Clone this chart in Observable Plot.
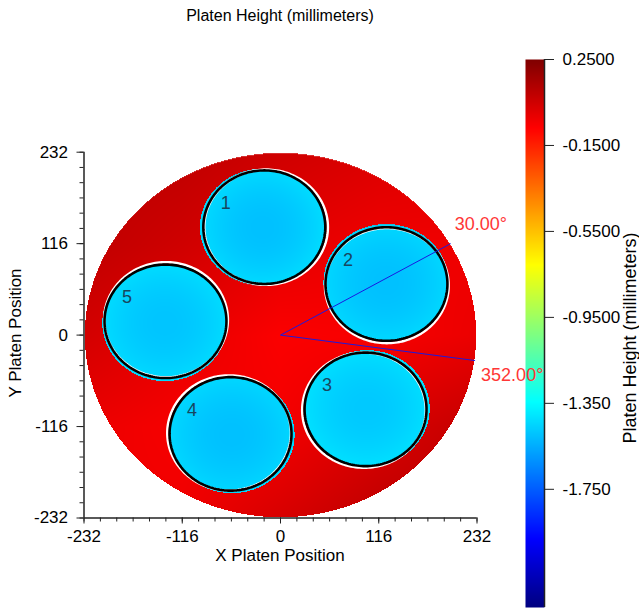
<!DOCTYPE html>
<html><head><meta charset="utf-8">
<script src="https://cdn.jsdelivr.net/npm/d3@7"></script>
<script src="https://cdn.jsdelivr.net/npm/@observablehq/plot@0.6"></script>
<style>
body{margin:0;background:#fff;}
#root{position:relative;width:639px;height:612px;font-family:"Liberation Sans",Arial,sans-serif;color:#000;overflow:hidden}
.lbl{position:absolute;white-space:nowrap;transform:translate(-50%,-50%);line-height:1}
.rot{transform:translate(-50%,-50%) rotate(-90deg)}
svg{position:absolute;top:0}
</style></head><body><div id="root"></div>
<script>
// ---------- data ----------
const titleText = "Platen Height (millimeters)";
const xLabel = "X Platen Position";
const yLabel = "Y Platen Position";
const colorLabel = "Platen Height (millimeters)";

const axisTicks = [-232, -116, 0, 116, 232];
const axisTickLabels = ["-232", "-116", "0", "116", "232"];
const minorPerMajor = 6;

const colorTicks = [0.25, -0.15, -0.55, -0.95, -1.35, -1.75];
const colorTickLabels = ["0.2500", "-0.1500", "-0.5500", "-0.9500", "-1.350", "-1.750"];
const colorMin = -2.30, colorMax = 0.25;
const jetStops = [0, 0.125, 0.375, 0.625, 0.875, 1];
const jetColors = ["#00007f", "#0000ff", "#00ffff", "#ffff00", "#ff0000", "#7f0000"];

const platenRadius = 231;
const pocketNumbers = ["1", "2", "3", "4", "5"];
const pocketX = [-19.1, 125.1, 100.4, -59.0, -135.8];
const pocketY = [136.9, 64.8, -94.2, -125.3, 17.5];
const pocketRadius = [72, 72, 72, 72, 72];
const pocketEdgeDir = [0, -78, -150, 145, 72];      // side where the white rim shows (degrees)
const pocketCenterHeight = [-1.50, -1.50, -1.48, -1.50, -1.49];
const pocketRimHeight = [-1.43, -1.44, -1.42, -1.44, -1.43];

const gridX = [-232, -116, 0, 116, 232];
const gridY = [232, 116, 0, -116, -232];
const platenHeights = [
  [0.10, 0.09, 0.05, 0.02, 0.00],
  [0.09, 0.05, 0.00, -0.03, -0.03],
  [0.04, -0.01, -0.06, -0.05, -0.02],
  [-0.02, -0.05, -0.04, 0.02, 0.08],
  [-0.04, -0.03, 0.03, 0.09, 0.12]
];

const angleLines = [30, 352];
const angleLabels = ["30.00°", "352.00°"];
const angleLineLength = 232;

// ---------- derived tables ----------
const rad = d => d * Math.PI / 180;
const pockets = pocketNumbers.map((n, i) => ({
  n, x: pocketX[i], y: pocketY[i], r: pocketRadius[i],
  ux: Math.cos(rad(pocketEdgeDir[i])), uy: Math.sin(rad(pocketEdgeDir[i])),
  c: pocketCenterHeight[i], e: pocketRimHeight[i]
}));
const shift = 2;

function platenAt(x, y) {
  const fx = (x - gridX[0]) / (gridX[1] - gridX[0]);
  const fy = (gridY[0] - y) / (gridY[0] - gridY[1]);
  const i = Math.max(0, Math.min(gridX.length - 2, Math.floor(fx)));
  const j = Math.max(0, Math.min(gridY.length - 2, Math.floor(fy)));
  const tx = Math.max(0, Math.min(1, fx - i)), ty = Math.max(0, Math.min(1, fy - j));
  const a = platenHeights[j][i], b = platenHeights[j][i + 1];
  const c = platenHeights[j + 1][i], d = platenHeights[j + 1][i + 1];
  return (a * (1 - tx) + b * tx) * (1 - ty) + (c * (1 - tx) + d * tx) * ty;
}
function heightAt(x, y) {
  if (x * x + y * y > platenRadius * platenRadius) return undefined;
  for (const p of pockets) {
    const dx = x - (p.x - shift * p.ux), dy = y - (p.y - shift * p.uy);
    const dd = Math.sqrt(dx * dx + dy * dy);
    const R = p.r + 2;
    if (dd <= R) return p.c + (p.e - p.c) * (dd / R) * (dd / R);
  }
  return platenAt(x, y);
}

const ringAngles = d3.range(0, 361, 2);
const whiteRing = pockets.flatMap(p => ringAngles.map(a => ({
  id: p.n, x: p.x + shift * p.ux + (p.r + 1) * Math.cos(rad(a)), y: p.y + shift * p.uy + (p.r + 1) * Math.sin(rad(a))
})));
const blackRing = pockets.flatMap(p => ringAngles.map(a => ({
  id: p.n, x: p.x + p.r * Math.cos(rad(a)), y: p.y + p.r * Math.sin(rad(a))
})));
const angleData = angleLines.map((a, i) => ({
  x1: 0, y1: 0, x2: angleLineLength * Math.cos(rad(a)), y2: angleLineLength * Math.sin(rad(a)), label: angleLabels[i]
}));
const minorTicks = d3.range(0, (axisTicks.length - 1) * minorPerMajor + 1)
  .map(k => axisTicks[0] + k * (axisTicks[1] - axisTicks[0]) / minorPerMajor);

const colorOpts = {
  type: "linear",
  domain: jetStops.map(t => colorMin + t * (colorMax - colorMin)),
  range: jetColors, interpolate: "rgb"
};
const font = '"Liberation Sans", Arial, sans-serif';

// ---------- main chart ----------
const main = Plot.plot({
  width: 560, height: 612,
  marginLeft: 83.5, marginRight: 83.5, marginTop: 151.7, marginBottom: 94.5,
  style: {background: "transparent", overflow: "visible", fontFamily: font, fontSize: "17px", color: "#000"},
  x: {domain: [-232, 232]},
  y: {domain: [-232, 232]},
  color: colorOpts,
  marks: [
    Plot.raster({x1: -232, x2: 232, y1: -232, y2: 232, fill: heightAt, pixelSize: 1}),
    Plot.line(whiteRing, {x: "x", y: "y", z: "id", stroke: "white", strokeWidth: 2.6}),
    Plot.line(blackRing, {x: "x", y: "y", z: "id", stroke: "#000", strokeWidth: 2.6}),
    Plot.link(angleData, {x1: "x1", y1: "y1", x2: "x2", y2: "y2", stroke: "#1a1ae0", strokeWidth: 1}),
    Plot.text(angleData.slice(0, 1), {x: "x2", y: "y2", text: "label", textAnchor: "start", dx: 4, dy: -19, fontSize: 18, fill: "#ff3636"}),
    Plot.text(angleData.slice(1), {x: "x2", y: "y2", text: "label", textAnchor: "start", dx: 6, dy: 15, fontSize: 18, fill: "#ff3636"}),
    Plot.text(pockets, {x: "x", y: "y", text: "n", dx: -38.5, dy: -24, fontSize: 18, fill: "#18465e"}),
    Plot.axisX(minorTicks, {anchor: "bottom", tickSize: 4, tickFormat: () => "", label: null, stroke: "#222"}),
    Plot.axisY(minorTicks, {anchor: "left", tickSize: 4, tickFormat: () => "", label: null, stroke: "#222"}),
    Plot.axisX(axisTicks, {anchor: "bottom", tickSize: 6, tickPadding: 6, label: null, stroke: "#222",
      tickFormat: d => axisTickLabels[axisTicks.indexOf(d)], fontSize: 17, fill: "#000"}),
    Plot.axisY(axisTicks, {anchor: "left", tickSize: 7, tickPadding: 9, label: null, stroke: "#222",
      tickFormat: d => axisTickLabels[axisTicks.indexOf(d)], fontSize: 17, fill: "#000"}),
    Plot.ruleX([-232], {stroke: "#222", strokeWidth: 1.5}),
    Plot.ruleY([-232], {stroke: "#222", strokeWidth: 1.5})
  ]
});

// ---------- colour bar ----------
const bar = Plot.plot({
  width: 139, height: 612,
  marginLeft: 25, marginRight: 95, marginTop: 59, marginBottom: 5,
  style: {background: "transparent", overflow: "visible", fontFamily: font, fontSize: "17px", color: "#000"},
  x: {domain: [0, 1], axis: null},
  y: {domain: [colorMin, colorMax]},
  color: colorOpts,
  marks: [
    Plot.raster({x1: 0, x2: 1, y1: colorMin, y2: colorMax, fill: (x, y) => y, pixelSize: 1}),
    Plot.axisY(colorTicks, {anchor: "right", tickSize: 9, tickPadding: 9, label: null, stroke: "#222",
      tickFormat: d => colorTickLabels[colorTicks.indexOf(d)], fontSize: 17, fill: "#000"}),
    Plot.ruleX([1], {stroke: "#222", strokeWidth: 1.5})
  ]
});

const root = document.getElementById("root");
bar.style.left = "500px";
main.style.left = "0px";
root.appendChild(bar);
root.appendChild(main);

function addLabel(text, cx, cy, size, rotate) {
  const d = document.createElement("div");
  d.className = "lbl" + (rotate ? " rot" : "");
  d.style.left = cx + "px"; d.style.top = cy + "px"; d.style.fontSize = size + "px";
  d.textContent = text;
  root.appendChild(d);
}
addLabel(titleText, 280, 16, 16, false);
addLabel(xLabel, 280, 555, 17, false);
addLabel(yLabel, 15, 333, 17, true);
addLabel(colorLabel, 630, 338, 18, true);
</script></body></html>
